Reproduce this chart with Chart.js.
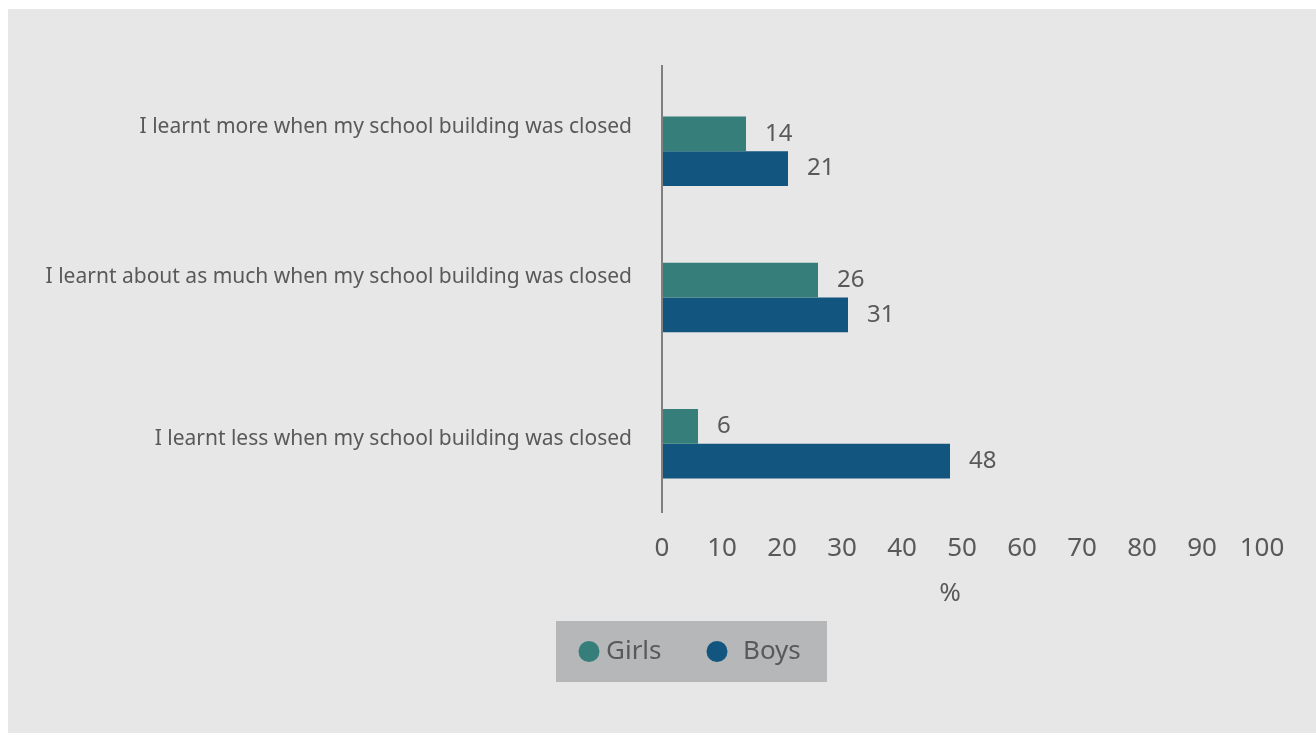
<!DOCTYPE html>
<html>
<head>
<meta charset="utf-8">
<script src="https://cdn.jsdelivr.net/npm/chart.js@4"></script>
<style>
  html, body { margin: 0; padding: 0; background: #ffffff; }
  #wrap { position: absolute; left: 8px; top: 9px; width: 1308px; height: 724px; background: #e7e7e7; }
  canvas { display: block; }
</style>
</head>
<body>
<div id="wrap"><canvas id="chart" width="1308" height="724"></canvas></div>
<script>
const categories = [
  'I learnt more when my school building was closed',
  'I learnt about as much when my school building was closed',
  'I learnt less when my school building was closed'
];
const girls = [14, 26, 6];
const boys = [21, 31, 48];
const seriesNames = ['Girls', 'Boys'];
const xTicks = [0, 10, 20, 30, 40, 50, 60, 70, 80, 90, 100];
const axisTitle = '%';

const TEXT = '#595959';
const FONT = '"Noto Sans", "Open Sans", sans-serif';

// value labels just past the end of each bar
const valueLabels = {
  id: 'valueLabels',
  afterDatasetsDraw(chart) {
    const ctx = chart.ctx;
    ctx.save();
    ctx.fillStyle = TEXT;
    ctx.font = '24px ' + FONT;
    ctx.textAlign = 'left';
    ctx.textBaseline = 'middle';
    chart.data.datasets.forEach((ds, i) => {
      chart.getDatasetMeta(i).data.forEach((bar, j) => {
        ctx.fillText(String(ds.data[j]), bar.x + 19, bar.y);
      });
    });
    ctx.restore();
  }
};

// category labels sit a little above the centre of their bar pair
const categoryLabels = {
  id: 'categoryLabels',
  afterDraw(chart) {
    const ctx = chart.ctx;
    const y = chart.scales.y;
    const lift = [-24, -20, -5];
    ctx.save();
    ctx.fillStyle = TEXT;
    ctx.font = '21px ' + FONT;
    ctx.textAlign = 'right';
    ctx.textBaseline = 'middle';
    chart.data.labels.forEach((lab, i) => {
      ctx.fillText(lab, chart.chartArea.left - 30, y.getPixelForValue(i) + lift[i]);
    });
    // axis title
    ctx.font = '26px ' + FONT;
    ctx.textAlign = 'center';
    const x = chart.scales.x;
    ctx.fillText(axisTitle, (x.left + x.right) / 2 - 12, 585);
    ctx.restore();
  }
};

// vertical baseline at zero
const zeroLine = {
  id: 'zeroLine',
  afterDatasetsDraw(chart) {
    const ctx = chart.ctx;
    const x = chart.scales.x.getPixelForValue(0);
    const a = chart.chartArea;
    ctx.save();
    ctx.strokeStyle = '#808080';
    ctx.lineWidth = 2;
    ctx.beginPath();
    ctx.moveTo(x, a.top - 13);
    ctx.lineTo(x, a.bottom - 4);
    ctx.stroke();
    ctx.restore();
  }
};

// boxed legend with round markers
const boxLegend = {
  id: 'boxLegend',
  afterDraw(chart) {
    const ctx = chart.ctx;
    const left = 548, top = 612, w = 271, h = 61;
    const cy = top + h / 2;
    const items = [{ dot: 33, text: 50 }, { dot: 161, text: 187 }];
    ctx.save();
    ctx.fillStyle = '#b5b7b8';
    ctx.fillRect(left, top, w, h);
    ctx.font = '26px ' + FONT;
    ctx.textBaseline = 'middle';
    ctx.textAlign = 'left';
    chart.data.datasets.forEach((ds, i) => {
      ctx.fillStyle = ds.backgroundColor;
      ctx.beginPath();
      ctx.arc(left + items[i].dot, cy, 10.5, 0, Math.PI * 2);
      ctx.fill();
      ctx.fillStyle = TEXT;
      ctx.fillText(ds.label, left + items[i].text, cy);
    });
    ctx.restore();
  }
};

new Chart(document.getElementById('chart'), {
  type: 'bar',
  data: {
    labels: categories,
    datasets: [
      { label: seriesNames[0], data: girls, backgroundColor: '#367e7a' },
      { label: seriesNames[1], data: boys, backgroundColor: '#12557e' }
    ]
  },
  options: {
    indexAxis: 'y',
    responsive: false,
    animation: false,
    layout: { padding: { left: 0, right: 54, top: 69, bottom: 116 } },
    datasets: { bar: { categoryPercentage: 0.475, barPercentage: 1 } },
    scales: {
      x: {
        min: 0,
        max: 100,
        afterBuildTicks(s) { s.ticks = xTicks.map(v => ({ value: v })); },
        afterFit(s) { s.height = 100; },
        grid: { display: false, drawTicks: false },
        border: { display: false },
        ticks: { color: TEXT, font: { family: FONT, size: 26 }, padding: 16, maxRotation: 0, autoSkip: false }
      },
      y: {
        afterFit(s) { s.width = 654; },
        grid: { display: false, drawTicks: false },
        border: { display: false },
        ticks: { display: false }
      }
    },
    plugins: {
      legend: { display: false },
      tooltip: { enabled: false }
    }
  },
  plugins: [valueLabels, zeroLine, categoryLabels, boxLegend]
});
</script>
</body>
</html>
